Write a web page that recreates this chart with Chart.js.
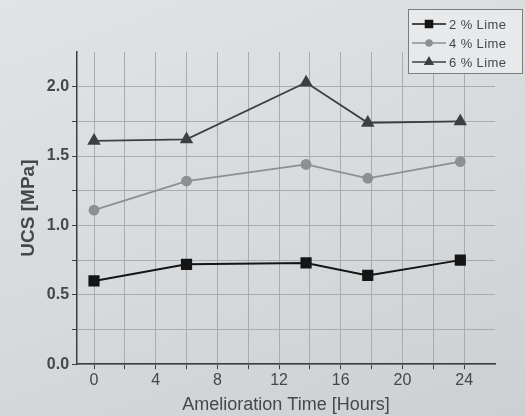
<!DOCTYPE html>
<html>
<head>
<meta charset="utf-8">
<script src="https://cdn.jsdelivr.net/npm/chart.js@4/dist/chart.umd.min.js"></script>
<style>
    html, body {
        margin: 0;
        padding: 0;
        background: linear-gradient(160deg, #e1e3e5 0%, #d7dadc 55%, #cdd0d3 100%);
    }
    #wrap {
        width: 525px;
        height: 416px;
    }
</style>
</head>
<body>
<div id="wrap"><canvas id="ucsChart" width="525" height="416"></canvas></div>
<script>
// Amelioration time (hours) at which each sample was tested
const hours = [0, 6, 13.75, 17.75, 23.75];

// UCS in MPa for each lime content
const lime2 = [0.60, 0.72, 0.73, 0.64, 0.75];
const lime4 = [1.11, 1.32, 1.44, 1.34, 1.46];
const lime6 = [1.61, 1.62, 2.03, 1.74, 1.75];

const seriesLabels = ['2 % Lime', '4 % Lime', '6 % Lime'];

// Labelled ticks on each axis
const xTickLabels = [0, 4, 8, 12, 16, 20, 24];
const yTickLabels = [0.0, 0.5, 1.0, 1.5, 2.0];

const textColor = '#454749';
const gridColor = '#a9acaf';
const axisColor = '#3c3d3f';
const fontFamily = '"Liberation Sans", Arial, sans-serif';

function toPoints(values) {
    return hours.map((h, i) => ({ x: h, y: values[i] }));
}

// Legend drawn as line-marker-line samples inside a framed box
const boxLegend = {
    id: 'boxLegend',
    afterDraw(chart) {
        const ctx = chart.ctx;
        const left = 408, top = 9, width = 114, height = 64;
        ctx.save();
        ctx.fillStyle = 'rgba(232, 234, 236, 0.9)';
        ctx.fillRect(left, top, width, height);
        ctx.strokeStyle = '#7a7c7e';
        ctx.lineWidth = 1;
        ctx.strokeRect(left + 0.5, top + 0.5, width, height);

        chart.data.datasets.forEach((ds, i) => {
            const y = top + 15 + i * 19;
            ctx.strokeStyle = ds.borderColor;
            ctx.lineWidth = 1.5;
            ctx.beginPath();
            ctx.moveTo(left + 4, y);
            ctx.lineTo(left + 38, y);
            ctx.stroke();
            ctx.fillStyle = ds.pointBackgroundColor;
            ctx.strokeStyle = ds.pointBackgroundColor;
            Chart.helpers.drawPoint(ctx, {
                pointStyle: ds.pointStyle,
                radius: ds.pointRadius - 1.5,
                borderWidth: 1
            }, left + 21, y);
            ctx.fillStyle = textColor;
            ctx.font = '13px ' + fontFamily;
            ctx.letterSpacing = '0.4px';
            ctx.textBaseline = 'middle';
            ctx.fillText(ds.label, left + 41, y + 1);
        });
        ctx.restore();
    }
};

const ctx = document.getElementById('ucsChart').getContext('2d');
new Chart(ctx, {
    type: 'line',
    data: {
        datasets: [{
            label: seriesLabels[0],
            data: toPoints(lime2),
            borderColor: '#151515',
            backgroundColor: '#151515',
            pointBackgroundColor: '#151515',
            pointBorderColor: '#151515',
            pointStyle: 'rect',
            pointRadius: 6.5,
            borderWidth: 2
        }, {
            label: seriesLabels[1],
            data: toPoints(lime4),
            borderColor: '#8d8f91',
            backgroundColor: '#8d8f91',
            pointBackgroundColor: '#8d8f91',
            pointBorderColor: '#8d8f91',
            pointStyle: 'circle',
            pointRadius: 4.5,
            borderWidth: 1.8
        }, {
            label: seriesLabels[2],
            data: toPoints(lime6),
            borderColor: '#3e3f41',
            backgroundColor: '#3e3f41',
            pointBackgroundColor: '#3e3f41',
            pointBorderColor: '#3e3f41',
            pointStyle: 'triangle',
            pointRadius: 6,
            borderWidth: 1.8
        }]
    },
    options: {
        responsive: false,
        animation: false,
        layout: {
            padding: { top: 52, right: 30, bottom: 0, left: 17 }
        },
        plugins: {
            legend: { display: false },
            tooltip: { enabled: false }
        },
        scales: {
            x: {
                type: 'linear',
                min: -1.1,
                max: 26,
                // grid every 2 hours, starting at zero
                afterBuildTicks: (scale) => {
                    const ticks = [];
                    for (let v = 0; v < 26; v += 2) ticks.push({ value: v });
                    scale.ticks = ticks;
                },
                ticks: {
                    autoSkip: false,
                    maxRotation: 0,
                    color: textColor,
                    padding: 2,
                    font: { family: fontFamily, size: 16 },
                    callback: (value) => xTickLabels.includes(value) ? String(value) : ''
                },
                grid: {
                    color: gridColor,
                    tickColor: axisColor,
                    tickLength: 5,
                    lineWidth: 1
                },
                border: { display: true, color: axisColor, width: 1.5 },
                title: {
                    display: true,
                    text: 'Amelioration Time [Hours]',
                    color: textColor,
                    padding: { top: 2, bottom: 0 },
                    font: { family: fontFamily, size: 18 }
                }
            },
            y: {
                min: 0,
                max: 2.25,
                afterBuildTicks: (scale) => {
                    scale.ticks = scale.ticks.filter(t => t.value <= 2.0 + 1e-6);
                },
                ticks: {
                    stepSize: 0.25,
                    autoSkip: false,
                    color: textColor,
                    padding: 3,
                    font: { family: fontFamily, size: 16, weight: 'bold' },
                    callback: (value) => {
                        const hit = yTickLabels.find(v => Math.abs(v - value) < 1e-6);
                        return hit === undefined ? '' : hit.toFixed(1);
                    }
                },
                grid: {
                    color: gridColor,
                    tickColor: axisColor,
                    tickLength: 5,
                    lineWidth: 1
                },
                border: { display: true, color: axisColor, width: 1.5 },
                title: {
                    display: true,
                    text: 'UCS [MPa]',
                    color: textColor,
                    padding: { top: 0, bottom: 4 },
                    font: { family: fontFamily, size: 19, weight: 'bold' }
                }
            }
        }
    },
    plugins: [boxLegend]
});
</script>
</body>
</html>
